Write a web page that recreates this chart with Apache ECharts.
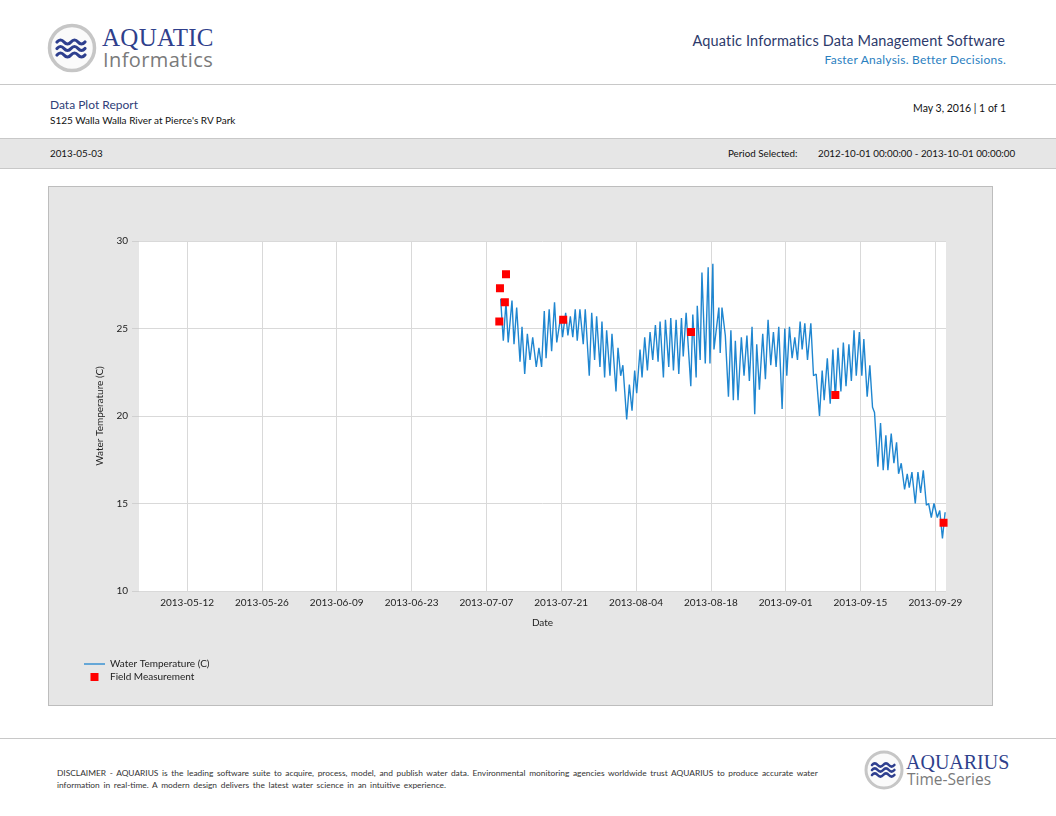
<!DOCTYPE html>
<html>
<head>
<meta charset="utf-8">
<title>Data Plot Report</title>
<script src="https://cdn.jsdelivr.net/npm/echarts@6.0.0/dist/echarts.min.js"></script>
<style>
    html, body {
        margin: 0;
        padding: 0;
        background: #fff;
    }
    body {
        position: relative;
        width: 1056px;
        height: 816px;
        overflow: hidden;
        font-family: Lato, "Open Sans", sans-serif;
        color: #111;
    }
    .abs {
        position: absolute;
        white-space: nowrap;
    }
    .rule {
        position: absolute;
        left: 0;
        width: 1056px;
        height: 1px;
        background: #c8c8c8;
    }
    .brand {
        font-family: "Liberation Serif", "DejaVu Serif", serif;
        color: #2f3f8c;
    }
    .brand-sub {
        font-family: "Open Sans", sans-serif;
        color: #7a7a7a;
    }
    #band {
        position: absolute;
        left: 0;
        top: 138px;
        width: 1056px;
        height: 29px;
        background: #e6e6e6;
        border-top: 1px solid #c8c8c8;
        border-bottom: 1px solid #c8c8c8;
    }
    #panel {
        position: absolute;
        left: 48px;
        top: 186px;
        width: 945px;
        height: 520px;
        box-sizing: border-box;
        border: 1px solid #bdbdbd;
        background: #e6e6e6;
    }
    #chart {
        width: 943px;
        height: 518px;
    }
</style>
</head>
<body>

<!-- header -->
<svg class="abs" style="left:46px;top:22px" width="52" height="52" viewBox="0 0 52 52">
    <circle cx="26" cy="26" r="22.5" fill="#fafafa" stroke="#c6c6c6" stroke-width="3.5"/>
    <g fill="none" stroke="#2e3f8f" stroke-width="3.2" stroke-linecap="round">
        <path d="M11 20 q3.5 -4 7 0 t7 0 t7 0 t7 0"/>
        <path d="M11 26.5 q3.5 -4 7 0 t7 0 t7 0 t7 0"/>
        <path d="M11 33 q3.5 -4 7 0 t7 0 t7 0 t7 0"/>
    </g>
</svg>
<div class="abs brand" style="left:102px;top:25px;font-size:25px;line-height:25px;letter-spacing:0.3px">AQUATIC</div>
<div class="abs brand-sub" style="left:103px;top:50px;font-size:20px;line-height:19px;letter-spacing:0.4px">Informatics</div>

<div class="abs" style="right:51px;top:32px;font-size:14.5px;color:#2d3a6b;letter-spacing:0.15px">Aquatic Informatics Data Management Software</div>
<div class="abs" style="right:50px;top:52px;font-size:12px;color:#2a80bf;letter-spacing:0.25px">Faster Analysis. Better Decisions.</div>

<div class="rule" style="top:84px"></div>

<div class="abs" style="left:50px;top:97px;font-size:12px;color:#2f4078">Data Plot Report</div>
<div class="abs" style="left:50px;top:114px;font-size:10px">S125 Walla Walla River at Pierce's RV Park</div>
<div class="abs" style="right:50px;top:102px;font-size:10.5px">May 3, 2016 | 1 of 1</div>

<div id="band"></div>
<div class="abs" style="left:50px;top:147px;font-size:9.8px">2013-05-03</div>
<div class="abs" style="left:728px;top:147px;font-size:9.8px">Period Selected:</div>
<div class="abs" style="left:818px;top:147px;font-size:9.8px">2012-10-01 00:00:00 - 2013-10-01 00:00:00</div>

<!-- chart -->
<div id="panel"><div id="chart"></div></div>

<!-- footer -->
<div class="rule" style="top:738px"></div>
<div class="abs" style="left:57px;top:767px;font-size:8.4px;line-height:12px;color:#333;word-spacing:1.5px">
    DISCLAIMER - AQUARIUS is the leading software suite to acquire, process, model, and publish water data. Environmental monitoring agencies worldwide trust AQUARIUS to produce accurate water<br>
    information in real-time. A modern design delivers the latest water science in an intuitive experience.
</div>
<svg class="abs" style="left:863px;top:749px" width="42" height="42" viewBox="0 0 42 42">
    <circle cx="21" cy="21" r="18" fill="#fafafa" stroke="#c6c6c6" stroke-width="3"/>
    <g fill="none" stroke="#2e3f8f" stroke-width="2.6" stroke-linecap="round">
        <path d="M9 16 q2.8 -3.2 5.6 0 t5.6 0 t5.6 0 t5.6 0"/>
        <path d="M9 21 q2.8 -3.2 5.6 0 t5.6 0 t5.6 0 t5.6 0"/>
        <path d="M9 26 q2.8 -3.2 5.6 0 t5.6 0 t5.6 0 t5.6 0"/>
    </g>
</svg>
<div class="abs brand" style="left:906px;top:753px;font-size:20px;line-height:18px">AQUARIUS</div>
<div class="abs brand-sub" style="left:907px;top:772px;font-size:15.5px;line-height:15px">Time-Series</div>

<script>
    // water temperature record (daily highs and lows)
    var tempTimes = [
        '2013-07-09 16:00', '2013-07-10 04:00', '2013-07-10 16:00', '2013-07-11 02:00', '2013-07-11 19:00',
        '2013-07-12 04:00', '2013-07-12 16:00', '2013-07-13 07:00', '2013-07-13 16:00', '2013-07-14 04:00',
        '2013-07-14 16:00', '2013-07-15 04:00', '2013-07-15 16:00', '2013-07-16 08:00', '2013-07-16 20:00',
        '2013-07-17 08:00', '2013-07-17 20:00', '2013-07-18 04:00', '2013-07-18 18:00', '2013-07-19 05:00',
        '2013-07-19 18:00', '2013-07-20 04:00', '2013-07-20 22:00', '2013-07-21 06:00', '2013-07-21 20:00',
        '2013-07-22 06:00', '2013-07-22 17:00', '2013-07-23 04:00', '2013-07-23 15:00', '2013-07-24 00:00',
        '2013-07-24 12:00', '2013-07-25 03:00', '2013-07-25 12:00', '2013-07-26 06:00', '2013-07-26 17:00',
        '2013-07-27 06:00', '2013-07-27 15:00', '2013-07-28 06:00', '2013-07-28 15:00', '2013-07-29 03:00',
        '2013-07-29 12:00', '2013-07-30 03:00', '2013-07-30 12:00', '2013-07-31 06:00', '2013-07-31 15:00',
        '2013-08-01 03:00', '2013-08-01 13:00', '2013-08-02 06:00', '2013-08-02 18:00', '2013-08-03 06:00',
        '2013-08-03 18:00', '2013-08-04 03:00', '2013-08-04 18:00', '2013-08-05 03:00', '2013-08-05 15:00',
        '2013-08-06 03:00', '2013-08-06 15:00', '2013-08-07 03:00', '2013-08-07 15:00', '2013-08-08 03:00',
        '2013-08-08 12:00', '2013-08-09 03:00', '2013-08-09 12:00', '2013-08-10 03:00', '2013-08-10 12:00',
        '2013-08-11 00:00', '2013-08-11 12:00', '2013-08-12 00:00', '2013-08-12 12:00', '2013-08-12 20:00',
        '2013-08-13 09:00', '2013-08-14 06:00', '2013-08-14 15:00', '2013-08-15 06:00', '2013-08-15 11:00',
        '2013-08-16 00:00', '2013-08-16 08:00', '2013-08-16 23:00', '2013-08-17 12:00', '2013-08-17 20:00',
        '2013-08-18 09:00', '2013-08-18 14:00', '2013-08-19 12:00', '2013-08-19 18:00', '2013-08-20 02:00',
        '2013-08-20 17:00', '2013-08-21 07:00', '2013-08-21 18:00', '2013-08-22 05:00', '2013-08-22 14:00',
        '2013-08-23 02:00', '2013-08-23 17:00', '2013-08-24 05:00', '2013-08-24 18:00', '2013-08-25 05:00',
        '2013-08-25 17:00', '2013-08-26 05:00', '2013-08-26 14:00', '2013-08-27 02:00', '2013-08-27 17:00',
        '2013-08-28 05:00', '2013-08-28 17:00', '2013-08-29 05:00', '2013-08-29 17:00', '2013-08-30 05:00',
        '2013-08-30 17:00', '2013-08-31 08:00', '2013-08-31 20:00', '2013-09-01 05:00', '2013-09-01 17:00',
        '2013-09-02 05:00', '2013-09-02 17:00', '2013-09-03 05:00', '2013-09-03 17:00', '2013-09-04 02:00',
        '2013-09-04 14:00', '2013-09-05 02:00', '2013-09-05 17:00', '2013-09-06 05:00', '2013-09-06 17:00',
        '2013-09-07 08:00', '2013-09-07 20:00', '2013-09-08 05:00', '2013-09-08 19:00', '2013-09-09 08:00',
        '2013-09-09 20:00', '2013-09-10 07:00', '2013-09-10 19:00', '2013-09-11 08:00', '2013-09-11 19:00',
        '2013-09-12 07:00', '2013-09-12 20:00', '2013-09-13 07:00', '2013-09-13 19:00', '2013-09-14 05:00',
        '2013-09-14 19:00', '2013-09-15 06:00', '2013-09-15 15:00', '2013-09-16 06:00', '2013-09-16 18:00',
        '2013-09-17 06:00', '2013-09-17 15:00', '2013-09-18 06:00', '2013-09-18 18:00', '2013-09-19 06:00',
        '2013-09-19 18:00', '2013-09-20 03:00', '2013-09-20 18:00', '2013-09-21 06:00', '2013-09-21 18:00',
        '2013-09-22 03:00', '2013-09-22 15:00', '2013-09-23 06:00', '2013-09-23 18:00', '2013-09-24 03:00',
        '2013-09-24 15:00', '2013-09-25 06:00', '2013-09-25 18:00', '2013-09-26 06:00', '2013-09-26 18:00',
        '2013-09-27 08:00', '2013-09-27 18:00', '2013-09-28 06:00', '2013-09-28 18:00', '2013-09-29 09:00',
        '2013-09-29 20:00', '2013-09-30 08:00', '2013-09-30 20:00'
    ];
    var tempValues = [
        26.7, 24.3, 26.5, 24.2, 26.6,
        24.1, 26.2, 23.1, 25.1, 22.4,
        24.7, 23.2, 24.5, 22.8, 23.9,
        22.8, 26.0, 23.3, 26.1, 23.7,
        26.5, 24.2, 25.7, 24.5, 25.9,
        24.6, 25.7, 24.5, 26.1, 24.3,
        26.1, 24.1, 26.1, 22.3, 25.9,
        23.2, 25.7, 22.8, 25.4, 22.2,
        24.9, 22.3, 24.7, 21.4, 23.9,
        22.3, 22.9, 19.8, 21.8, 20.3,
        22.6, 21.3, 23.8, 22.2, 24.5,
        22.6, 24.8, 23.2, 25.2, 23.1,
        25.4, 22.2, 25.5, 22.8, 25.6,
        22.6, 25.5, 22.4, 25.6, 23.4,
        25.9, 21.7, 25.8, 22.2, 26.3,
        23.2, 28.2, 23.0, 28.5, 23.0,
        28.7, 23.8, 26.2, 23.6, 26.2,
        24.6, 21.1, 24.9, 20.9, 24.3,
        20.9, 24.5, 22.3, 24.6, 22.0,
        25.1, 20.1, 24.1, 21.5, 24.7,
        22.1, 25.5, 22.9, 24.8, 22.8,
        25.1, 20.4, 25.0, 22.3, 25.1,
        23.3, 24.5, 23.2, 25.4, 23.8,
        25.3, 23.2, 25.3, 22.3, 22.4,
        20.0, 22.6, 20.9, 23.3, 20.7,
        23.8, 21.0, 23.9, 21.4, 24.2,
        21.7, 24.1, 22.0, 24.9, 22.3,
        24.8, 22.3, 24.4, 21.1, 22.9,
        20.5, 20.2, 17.1, 19.6, 16.9,
        18.9, 16.9, 19.0, 17.3, 18.5,
        16.7, 17.3, 15.8, 16.7, 15.9,
        16.8, 15.0, 16.8, 15.6, 16.9,
        14.9, 15.0, 14.2, 15.0, 14.2,
        14.6, 13.0, 14.5
    ];

    // field measurements
    var fieldTimes = [
        '2013-07-09 10:00', '2013-07-09 13:00', '2013-07-10 11:00', '2013-07-10 16:00',
        '2013-07-21 09:00', '2013-08-14 07:00', '2013-09-10 07:00', '2013-09-30 13:00'
    ];
    var fieldValues = [25.4, 27.3, 26.5, 28.1, 25.5, 24.8, 21.2, 13.9];

    // axes
    var dateTicks = [
        '2013-05-12', '2013-05-26', '2013-06-09', '2013-06-23', '2013-07-07',
        '2013-07-21', '2013-08-04', '2013-08-18', '2013-09-01', '2013-09-15', '2013-09-29'
    ];
    var periodStart = '2013-05-03';
    var periodEnd = '2013-10-01';

    var FONT = "Lato,'Open Sans',sans-serif";

    function toTime(s) {
        return echarts.number.parseDate(s).getTime();
    }

    var chart = echarts.init(document.getElementById("chart"), null, {renderer: "canvas"});

    var option = {
        backgroundColor: "#e6e6e6",
        animation: false,
        textStyle: {
            fontFamily: FONT
        },
        grid: {
            left: 90,
            right: 46,
            top: 54,
            bottom: 114,
            show: true,
            backgroundColor: "#ffffff",
            borderWidth: 0
        },
        legend: {
            orient: "vertical",
            left: 30,
            top: 467,
            itemWidth: 21,
            itemHeight: 8,
            itemGap: 3,
            textStyle: {
                fontSize: 10,
                color: "#222",
                fontFamily: FONT
            },
            data: [
                {name: "Water Temperature (C)", icon: "path://M0,0 H21 V1.3 H0 Z"},
                {name: "Field Measurement", icon: "path://M0,0 H7 V7 H0 Z"}
            ]
        },
        xAxis: {
            type: "value",
            min: toTime(periodStart),
            max: toTime(periodEnd),
            name: "Date",
            nameLocation: "middle",
            nameGap: 27,
            nameTextStyle: {
                fontSize: 10,
                color: "#222"
            },
            axisLine: {
                show: false
            },
            axisTick: {
                show: false,
                customValues: dateTicks.map(toTime)
            },
            axisLabel: {
                customValues: dateTicks.map(toTime),
                margin: 7,
                fontSize: 10,
                color: "#222",
                formatter: function (v) {
                    return echarts.time.format(v, "{yyyy}-{MM}-{dd}", false);
                }
            },
            splitLine: {
                show: true,
                lineStyle: {
                    color: "#d9d9d9",
                    width: 1
                }
            }
        },
        yAxis: {
            type: "value",
            min: 10,
            max: 30,
            interval: 5,
            name: "Water Temperature (C)",
            nameLocation: "middle",
            nameRotate: 90,
            nameGap: 34,
            nameTextStyle: {
                fontSize: 10,
                color: "#222"
            },
            axisLine: {
                show: false
            },
            axisTick: {
                show: true,
                length: 7,
                lineStyle: {
                    color: "#d0d0d0"
                }
            },
            axisLabel: {
                margin: 11,
                fontSize: 10,
                color: "#222"
            },
            splitLine: {
                show: true,
                lineStyle: {
                    color: "#d9d9d9",
                    width: 1
                }
            }
        },
        series: [
            {
                name: "Water Temperature (C)",
                type: "line",
                symbol: "none",
                data: tempTimes.map(function (t, i) {
                    return [toTime(t), tempValues[i]];
                }),
                lineStyle: {
                    color: "#1f86d0",
                    width: 1.4
                },
                itemStyle: {
                    color: "#1f86d0"
                },
                z: 2
            },
            {
                name: "Field Measurement",
                type: "scatter",
                symbol: "rect",
                symbolSize: 8,
                data: fieldTimes.map(function (t, i) {
                    return [toTime(t), fieldValues[i]];
                }),
                itemStyle: {
                    color: "#ff0000",
                    opacity: 1
                },
                z: 3
            }
        ]
    };

    chart.setOption(option);
</script>
</body>
</html>
